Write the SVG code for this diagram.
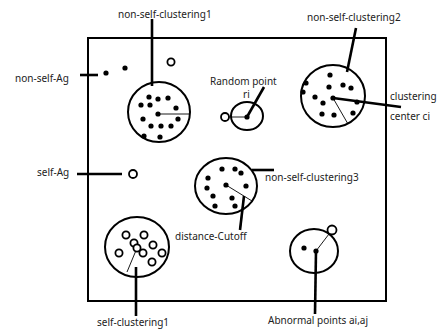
<svg xmlns="http://www.w3.org/2000/svg" width="439" height="329" viewBox="0 0 439 329">
  <style>
    text { font-family: "Noto Sans", "Open Sans", sans-serif; font-size: 10px; fill: #222; }
    .frame { fill: none; stroke: #000; stroke-width: 2; }
    .ring { fill: none; stroke: #000; stroke-width: 2; }
    .lead { stroke: #000; stroke-width: 2.6; fill: none; }
    .thin { stroke: #000; stroke-width: 0.9; fill: none; }
    .dot { fill: #000; }
    .open { fill: #fff; stroke: #000; stroke-width: 1.8; }
  </style>
  <rect fill="#fff" width="439" height="329"/>
  <rect class="frame" x="88" y="38" width="298" height="263"/>

  <g id="non-self-ag">
    <circle class="dot" cx="106" cy="73" r="2.6"/>
    <circle class="dot" cx="125" cy="68" r="2.6"/>
    <circle class="open" cx="171" cy="62" r="3.6"/>
  </g>

  <g id="non-self-clustering1">
    <ellipse class="ring" cx="159" cy="112" rx="31" ry="30"/>
    <g class="dot">
      <circle cx="149" cy="97" r="2.6"/><circle cx="158" cy="99" r="2.6"/><circle cx="168" cy="98" r="2.6"/>
      <circle cx="141" cy="105" r="2.6"/><circle cx="150" cy="105" r="2.6"/><circle cx="176" cy="108" r="2.6"/>
      <circle cx="158" cy="114" r="2.6"/><circle cx="143" cy="119" r="2.6"/><circle cx="178" cy="119" r="2.6"/>
      <circle cx="151" cy="126" r="2.6"/><circle cx="161" cy="126" r="2.6"/><circle cx="171" cy="126" r="2.6"/>
      <circle cx="144" cy="136" r="2.6"/><circle cx="160" cy="137" r="2.6"/>
    </g>
    <line class="thin" x1="158" y1="114" x2="190" y2="114" stroke-width="1.3"/>
  </g>

  <g id="random-point">
    <ellipse class="ring" cx="247" cy="116" rx="16" ry="14"/>
    <line class="thin" x1="229" y1="117" x2="247" y2="117"/>
    <circle class="open" cx="225" cy="117" r="4"/>
    <circle class="dot" cx="247" cy="117" r="2.6"/>
  </g>

  <g id="non-self-clustering2">
    <ellipse class="ring" cx="333" cy="96" rx="32" ry="31"/>
    <g class="dot">
      <circle cx="330" cy="75" r="2.6"/><circle cx="306" cy="83" r="2.6"/><circle cx="303" cy="92" r="2.6"/>
      <circle cx="329" cy="87" r="2.6"/><circle cx="343" cy="85" r="2.6"/><circle cx="351" cy="88" r="2.6"/>
      <circle cx="315" cy="97" r="2.6"/><circle cx="323" cy="103" r="2.6"/><circle cx="333" cy="98" r="2.6"/>
      <circle cx="357" cy="102" r="2.6"/><circle cx="322" cy="114" r="2.6"/><circle cx="334" cy="115" r="2.6"/>
      <circle cx="353" cy="113" r="2.6"/>
    </g>
    <line class="thin" x1="333" y1="98" x2="348" y2="124"/>
  </g>

  <g id="self-ag">
    <circle class="open" cx="133" cy="174" r="4"/>
  </g>

  <g id="non-self-clustering3">
    <ellipse class="ring" cx="226" cy="186" rx="31" ry="28"/>
    <g class="dot">
      <circle cx="222" cy="169" r="2.6"/><circle cx="235" cy="169" r="2.6"/><circle cx="241" cy="173" r="2.6"/>
      <circle cx="208" cy="178" r="2.6"/><circle cx="246" cy="186" r="2.6"/><circle cx="226" cy="185" r="2.6"/>
      <circle cx="207" cy="188" r="2.6"/><circle cx="213" cy="196" r="2.6"/><circle cx="232" cy="198" r="2.6"/>
      <circle cx="215" cy="206" r="2.6"/><circle cx="235" cy="206" r="2.6"/>
    </g>
    <line class="thin" x1="226" y1="185" x2="252" y2="201"/>
  </g>

  <g id="self-clustering1">
    <ellipse class="ring" cx="137" cy="247" rx="32" ry="30"/>
    <line class="thin" x1="137" y1="248" x2="127" y2="272"/>
    <g class="open" stroke-width="1.5">
      <circle cx="126" cy="235" r="3.6"/><circle cx="144" cy="235" r="3.6"/><circle cx="134" cy="243" r="3.6"/>
      <circle cx="153" cy="245" r="3.6"/><circle cx="137" cy="248" r="3.6"/><circle cx="119" cy="253" r="3.6"/>
      <circle cx="143" cy="253" r="3.6"/><circle cx="162" cy="253" r="3.6"/><circle cx="152" cy="262" r="3.6"/>
    </g>
  </g>

  <g id="abnormal-points">
    <ellipse class="ring" cx="314" cy="251" rx="24" ry="22"/>
    <line class="thin" x1="316" y1="251" x2="329" y2="234"/>
    <circle class="open" cx="332" cy="230" r="4.5"/>
    <circle class="dot" cx="304" cy="248" r="2.6"/>
    <circle class="dot" cx="316" cy="251" r="2.6"/>
  </g>

  <g id="connectors">
    <line class="lead" x1="152" y1="19" x2="152" y2="86"/>
    <line class="lead" x1="80" y1="75" x2="98" y2="75"/>
    <line class="lead" x1="247" y1="117" x2="264" y2="87"/>
    <line class="lead" x1="356" y1="28" x2="347" y2="72"/>
    <line class="lead" x1="333" y1="98" x2="401" y2="107"/>
    <line class="lead" x1="77" y1="174" x2="122" y2="174"/>
    <line class="lead" x1="252" y1="170" x2="274" y2="170"/>
    <line class="lead" x1="244" y1="196" x2="240" y2="230"/>
    <line class="lead" x1="136" y1="267" x2="136" y2="316"/>
    <line class="lead" x1="316" y1="251" x2="315" y2="314"/>
  </g>

  <g id="labels">
    <text x="118" y="18">non-self-clustering1</text>
    <text x="307" y="21">non-self-clustering2</text>
    <text x="15" y="82">non-self-Ag</text>
    <text x="210" y="85">Random point</text>
    <text x="243" y="98">ri</text>
    <text x="390" y="100">clustering</text>
    <text x="390" y="120">center ci</text>
    <text x="37" y="176">self-Ag</text>
    <text x="265" y="181">non-self-clustering3</text>
    <text x="175" y="240">distance-Cutoff</text>
    <text x="97" y="326">self-clustering1</text>
    <text x="268" y="324">Abnormal points ai,aj</text>
  </g>
</svg>
